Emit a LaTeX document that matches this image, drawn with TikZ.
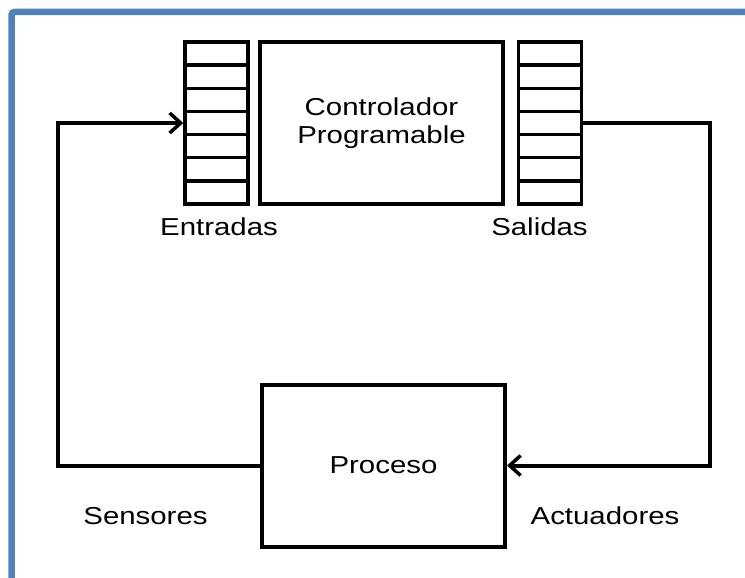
\documentclass[tikz,border=0pt]{standalone}
\usepackage{fontspec}
\setmainfont{Liberation Sans}
\usetikzlibrary{arrows.meta}

\begin{document}
\begin{tikzpicture}[x=1pt,y=-1pt,
    box/.style={draw, line width=4pt, minimum width=243pt, minimum height=162pt,
      inner sep=0pt, align=center, font=\fontsize{24.5}{28}\selectfont},
    cell/.style={draw, line width=3.5pt, minimum width=63pt, minimum height=23.14pt,
      inner sep=0pt},
    lbl/.style={font=\fontsize{24.5}{28}\selectfont, xscale=1.2, anchor=base},
    flow/.style={line width=4pt, -{Straight Barb[length=11pt,width=20pt,line width=3.5pt]}}]
  \useasboundingbox (0,0) rectangle (745,578);
  \fill[white] (0,0) rectangle (745,578);
  \draw[line width=6.5pt, color={rgb,255:red,79;green,129;blue,189}, rounded corners=3pt]
    (11.5,578) -- (11.5,12) -- (745,12);

  % registers
  \foreach \i in {1,...,7} {
    \node[cell] (in\i) at (216.5,{42+23.14*(\i-0.5)}) {};
    \node[cell] (out\i) at (550,{42+23.14*(\i-0.5)}) {};
  }

  \node[box] (plc) at (381.5,123) {\scalebox{1.2}[1]{Controlador}\\\scalebox{1.2}[1]{Programable}};
  \node[box] (proc) at (383.5,465.5) {\scalebox{1.2}[1]{Proceso}};

  \node[lbl] (entradas) at (219,235) {Entradas};
  \node[lbl] (salidas) at (539.5,235) {Salidas};
  \node[lbl] (sensores) at (145.5,524) {Sensores};
  \node[lbl] (actuadores) at (605,524) {Actuadores};

  \coordinate (lrail) at (58,300);
  \coordinate (rrail) at (710,300);

  \draw[flow] (proc.west) -- (proc.west -| lrail) |- (in4.west);
  \draw[flow] (out4.east) -- (out4.east -| rrail) |- (proc.east);
\end{tikzpicture}
\end{document}
